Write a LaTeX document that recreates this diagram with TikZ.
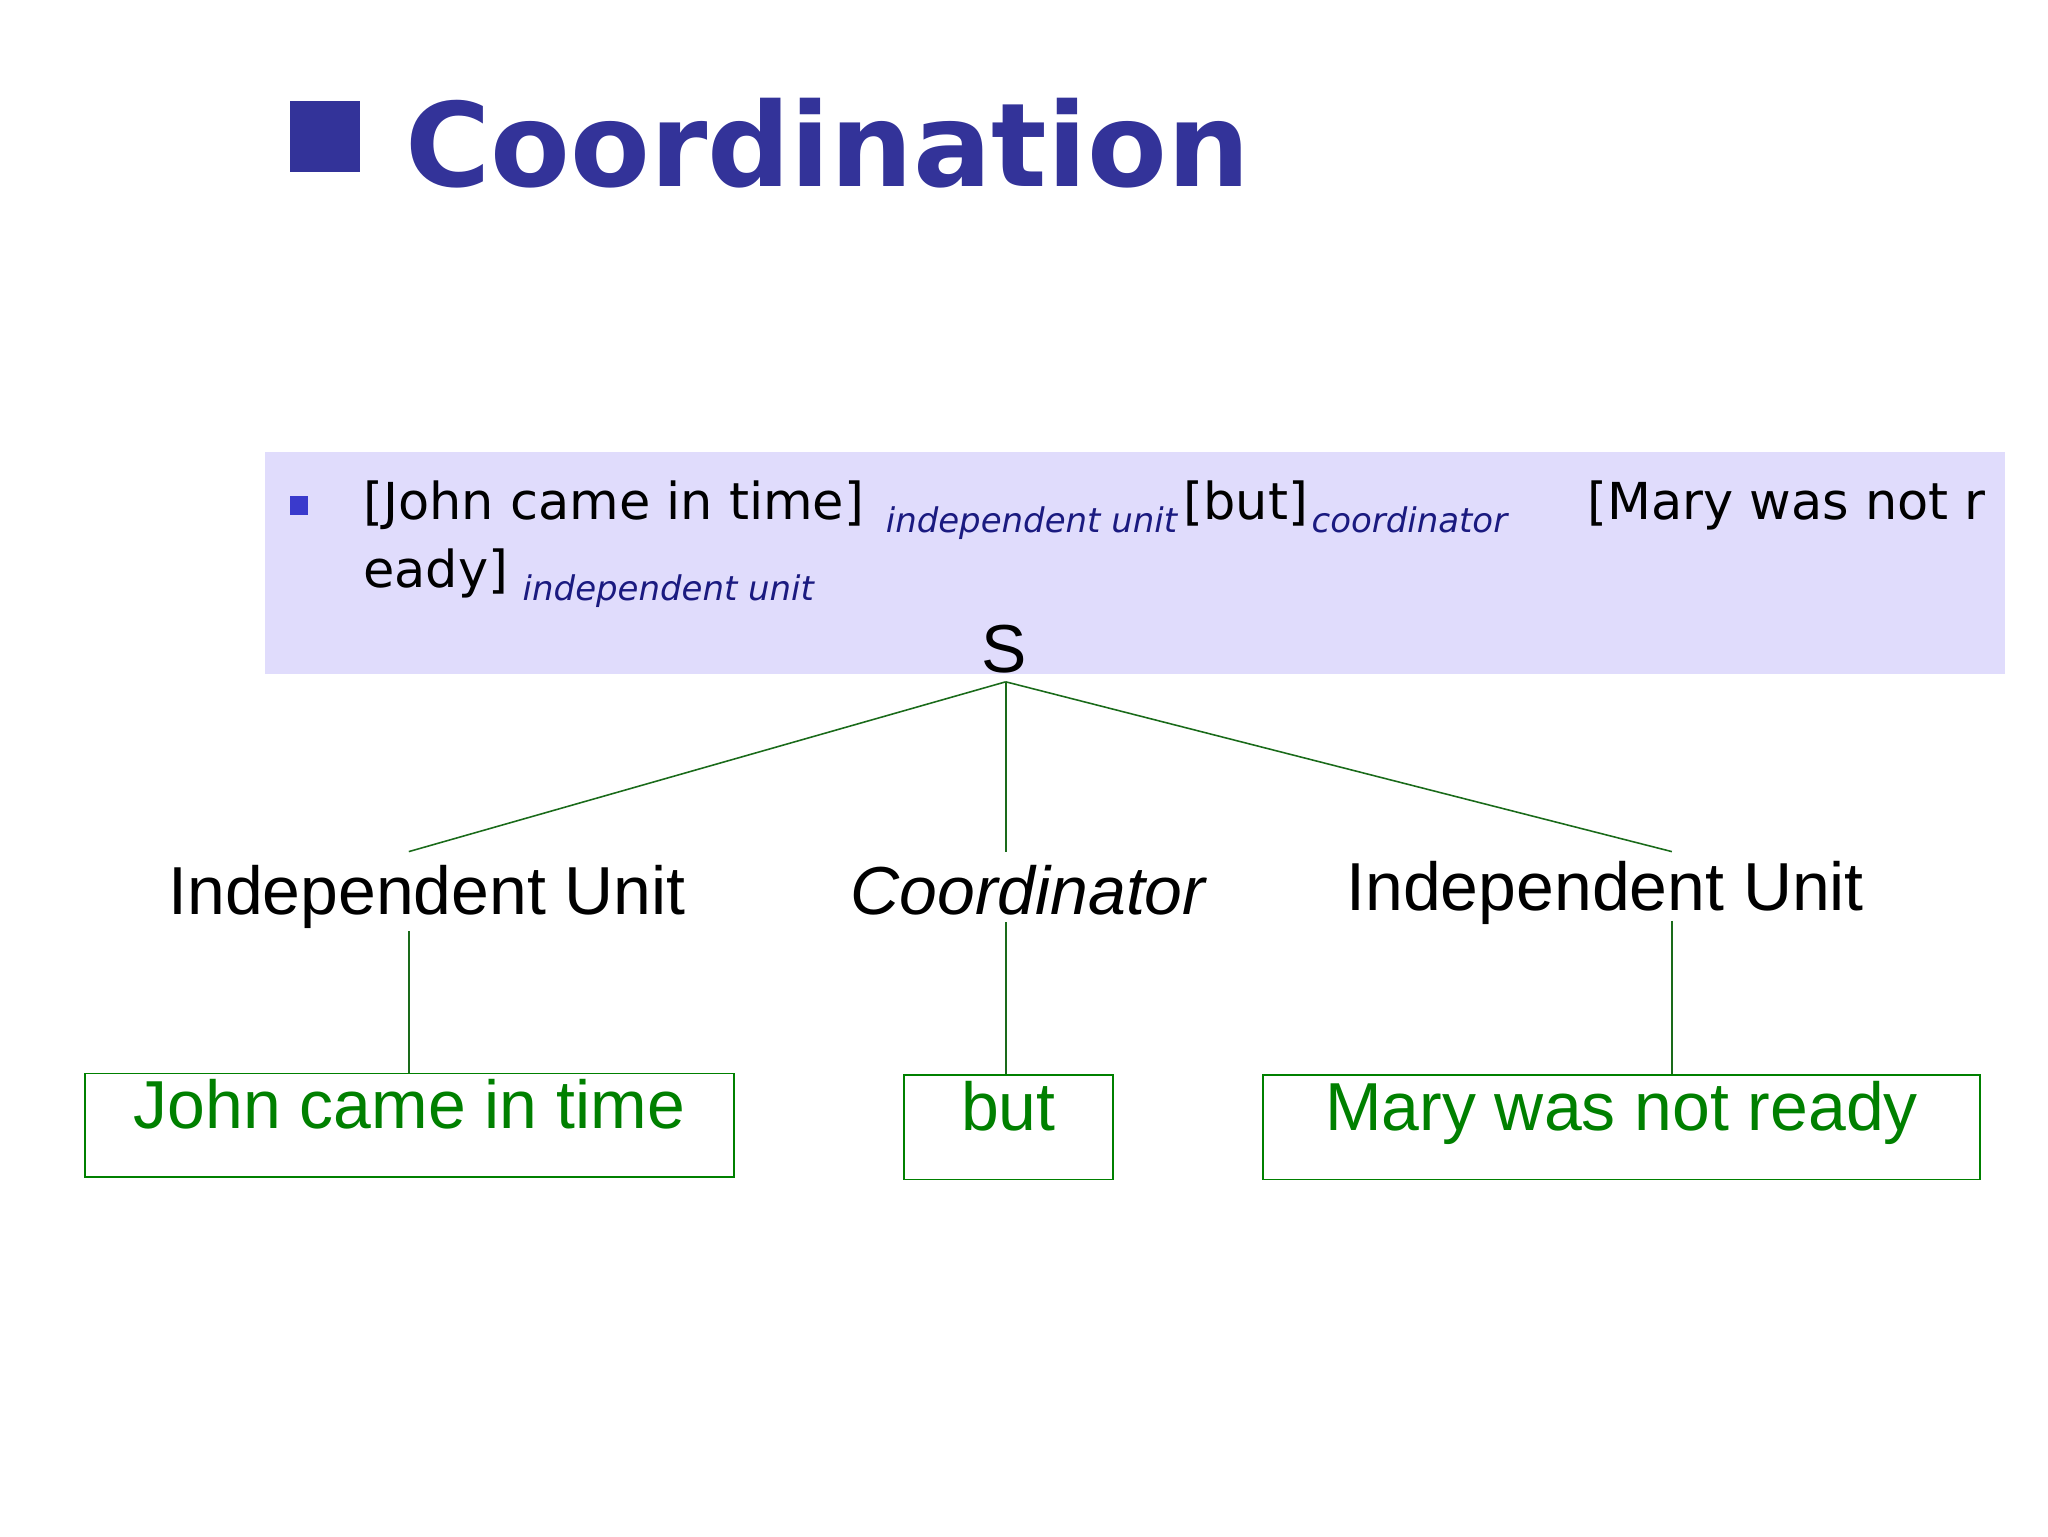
\documentclass[tikz,border=0pt]{standalone}
\usepackage{fontspec}
\setmainfont{Liberation Sans}
\newfontfamily\verd{DejaVu Sans}
\definecolor{titleblue}{HTML}{333399}
\definecolor{boxbg}{HTML}{E0DCFC}
\definecolor{bulletblue}{HTML}{3A3ACC}
\definecolor{subnavy}{HTML}{1A1A80}
\definecolor{treegreen}{HTML}{1A6B1A}
\definecolor{leafgreen}{HTML}{008000}
\begin{document}
\begin{tikzpicture}[x=1pt,y=-1pt,
  lbl/.style={anchor=base,inner sep=0pt,font=\fontsize{52}{60}\selectfont},
  brk/.style={anchor=base west,inner sep=0pt,font=\verd\fontsize{39}{48}\selectfont},
  sub/.style={anchor=base west,inner sep=0pt,text=subnavy,font=\verd\itshape\fontsize{26}{32}\selectfont},
  leaf/.style={draw=leafgreen,line width=1.2pt,text=leafgreen,inner sep=0pt,text height=0.72em,text depth=0.22em,font=\fontsize{52}{60}\selectfont},
  edge/.style={draw=treegreen,line width=1.2pt}]
\useasboundingbox (0,0) rectangle (1568,1176);
\fill[white] (0,0) rectangle (1568,1176);
% title
\fill[titleblue] (222,77) rectangle (276,132);
\node[anchor=base west,inner sep=0pt,text=titleblue,font=\verd\bfseries\fontsize{89}{100}\selectfont] (title) at (310,143) {Coordination};
% shaded box
\fill[boxbg] (203,346) rectangle (1535,516);
\fill[bulletblue] (222,380) rectangle (236,394);
\node[brk] (t1) at (278,398) {[John came in time]};
\node[sub] (s1) at (678,408) {independent unit};
\node[brk] (t2) at (906,398) {[but]};
\node[sub] (s2) at (1004,408) {coordinator};
\node[brk] (t3) at (1215,398) {[Mary was not r};
\node[brk] (t4) at (278,450) {eady]};
\node[sub] (s3) at (400,460) {independent unit};
% tree
\node[lbl] (S) at (769,515) {S};
\coordinate (Sb) at (770,522);
\node[lbl] (IU1) at (327,700) {Independent Unit};
\node[lbl,font=\itshape\fontsize{52}{60}\selectfont] (CO) at (787,700) {Coordinator};
\node[lbl] (IU2) at (1229,697) {Independent Unit};
\coordinate (a1) at (313,652);
\coordinate (a2) at (770,652);
\coordinate (a3) at (1280,652);
\draw[edge] (Sb) -- (a1);
\draw[edge] (Sb) -- (a2);
\draw[edge] (Sb) -- (a3);
\node[leaf,minimum width=497pt,minimum height=79pt] (L1) at (313.5,861.5) {John came in time};
\node[leaf,minimum width=160pt,minimum height=80pt] (L2) at (772,863) {but};
\node[leaf,minimum width=549pt,minimum height=80pt] (L3) at (1241.5,863) {Mary was not ready};
\coordinate (b1) at (313,713);
\coordinate (b2) at (770,706);
\coordinate (b3) at (1280,705);
\draw[edge] (b1) -- (L1.north -| b1);
\draw[edge] (b2) -- (L2.north -| b2);
\draw[edge] (b3) -- (L3.north -| b3);
\end{tikzpicture}
\end{document}
